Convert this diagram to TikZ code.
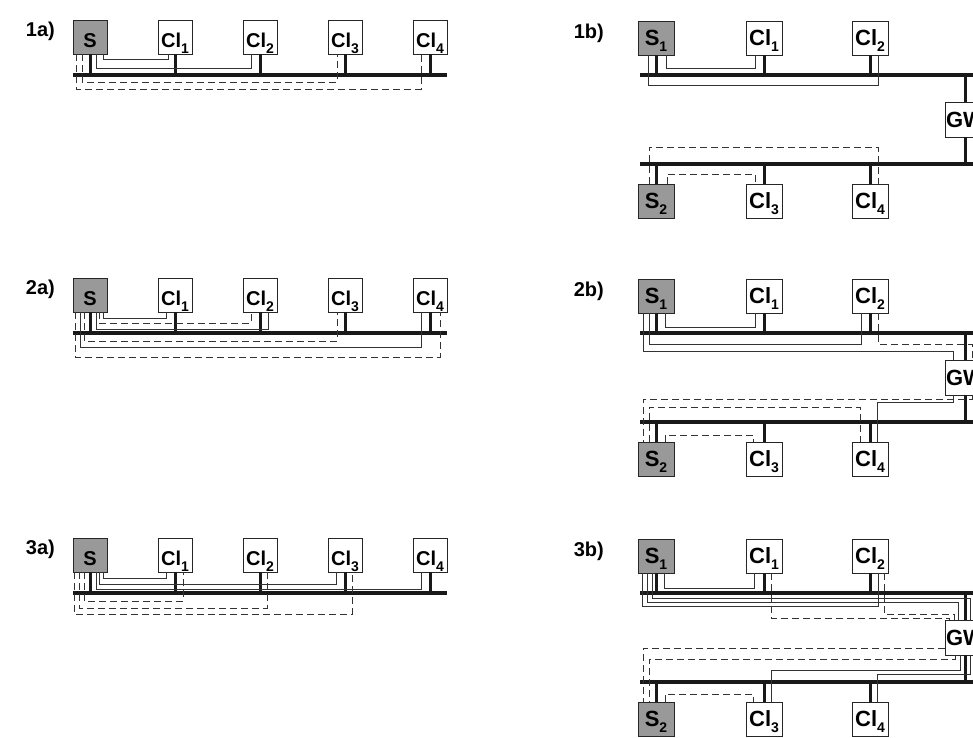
\documentclass[tikz,border=0pt]{standalone}
\usepackage{fontspec}
\setmainfont{Liberation Sans}
\newcommand\sbs[1]{\raisebox{-6pt}{\fontsize{14}{14}\selectfont #1}}
\newcommand\ltx[1]{\raisebox{-10pt}[0pt][0pt]{#1}}
\newcommand\rtx[1]{\raisebox{-7pt}[0pt][0pt]{#1}}
\newcommand\lnk[6]{\draw[#1] ([xshift=#3pt]#2) -- ++(0,#4) -| ([xshift=#6pt]#5);}
\newcommand\leftnodes[1]{%
  \coordinate (#1L) at (73,75); \coordinate (#1R) at (447,75);
  \draw[bus] (#1L) -- (#1R);
  \node[srv,lbox] (#1S) at (90,37) {\ltx{S}};
  \node[box,lbox] (#1C1) at (175,37) {\ltx{Cl\sbs{1}}};
  \node[box,lbox] (#1C2) at (260,37) {\ltx{Cl\sbs{2}}};
  \node[box,lbox] (#1C3) at (345,37) {\ltx{Cl\sbs{3}}};
  \node[box,lbox] (#1C4) at (430,37) {\ltx{Cl\sbs{4}}};
  \foreach \n in {S,C1,C2,C3,C4} \draw[stub] (#1\n.south) -- (#1\n.south |- #1L);
}
\newcommand\rightnodes[1]{%
  \coordinate (#1TL) at (640,75); \coordinate (#1TR) at (990,75);
  \coordinate (#1BL) at (640,164); \coordinate (#1BR) at (990,164);
  \draw[bus] (#1TL) -- (#1TR);
  \draw[bus] (#1BL) -- (#1BR);
  \node[srv,rbox] (#1S1) at (656,38) {\rtx{S\sbs{1}}};
  \node[box,rbox] (#1C1) at (764,38) {\rtx{Cl\sbs{1}}};
  \node[box,rbox] (#1C2) at (870,38) {\rtx{Cl\sbs{2}}};
  \node[box,gwbox] (#1GW) at (965,119.5) {\raisebox{-8pt}[0pt][0pt]{GW}};
  \node[srv,rbox] (#1S2) at (656,201) {\rtx{S\sbs{2}}};
  \node[box,rbox] (#1C3) at (764,201) {\rtx{Cl\sbs{3}}};
  \node[box,rbox] (#1C4) at (870,201) {\rtx{Cl\sbs{4}}};
  \foreach \n in {S1,C1,C2} \draw[stub] (#1\n.south) -- (#1\n.south |- #1TL);
  \foreach \n in {S2,C3,C4} \draw[stub] (#1\n.north) -- (#1\n.north |- #1BL);
  \draw[stub] (#1GW.north) -- (#1GW.north |- #1TL);
  \draw[stub] (#1GW.south) -- (#1GW.south |- #1BL);
}
\begin{document}
\begin{tikzpicture}[x=1pt,y=-1pt,
  box/.style={draw=black!85, line width=0.9pt, fill=white, inner sep=0pt, outer sep=0pt},
  srv/.style={box, fill=black!40},
  lbox/.style={minimum width=34pt, minimum height=34pt, font=\fontsize{20}{20}\selectfont\bfseries},
  rbox/.style={minimum width=36pt, minimum height=34pt, font=\fontsize{22}{22}\selectfont\bfseries},
  gwbox/.style={minimum width=40pt, minimum height=35pt, font=\fontsize{22}{22}\selectfont\bfseries},
  bus/.style={line width=3.2pt, black!90},
  stub/.style={line width=3pt, black!90},
  sol/.style={line width=0.8pt, black!80},
  das/.style={line width=0.8pt, black!80, dash pattern=on 7pt off 4pt},
  lab/.style={font=\fontsize{20}{20}\selectfont\bfseries, anchor=east, inner sep=0pt}]
\useasboundingbox (0,0) rectangle (973,737);
\clip (0,0) rectangle (973,737);
\fill[white] (0,0) rectangle (973,737);

% ---------- 1a ----------
\node[lab] (l1a) at (55,31) {1a)};
\leftnodes{a1}
\lnk{sol}{a1S.south}{13}{5}{a1C1.south}{-7}
\lnk{sol}{a1S.south}{6}{14}{a1C2.south}{-9}
\lnk{das}{a1S.south}{-8}{28}{a1C3.south}{-8}
\lnk{das}{a1S.south}{-14}{35}{a1C4.south}{-9}

% ---------- 2a ----------
\begin{scope}[yshift=-258pt]
\node[lab] (l2a) at (55,31) {2a)};
\leftnodes{a2}
\lnk{sol}{a2S.south}{13}{6}{a2C1.south}{-9}
\lnk{das}{a2S.south}{9}{11}{a2C2.south}{-9}
\lnk{sol}{a2S.south}{6}{17}{a2C2.south}{8}
\lnk{das}{a2S.south}{-6}{29}{a2C3.south}{-8}
\lnk{sol}{a2S.south}{-10}{35}{a2C4.south}{-9}
\lnk{das}{a2S.south}{-15}{45}{a2C4.south}{10}
\end{scope}

% ---------- 3a ----------
\begin{scope}[yshift=-518pt]
\node[lab] (l3a) at (55,31) {3a)};
\leftnodes{a3}
\lnk{sol}{a3S.south}{13}{6}{a3C1.south}{-9}
\lnk{sol}{a3S.south}{9}{12}{a3C3.south}{-9}
\lnk{sol}{a3S.south}{6}{17}{a3C4.south}{-9}
\lnk{das}{a3S.south}{-6}{29}{a3C1.south}{8}
\lnk{das}{a3S.south}{-11}{36}{a3C2.south}{7}
\lnk{das}{a3S.south}{-16}{42}{a3C3.south}{7}
\end{scope}

% ---------- 1b ----------
\node[lab] (l1b) at (604,33) {1b)};
\rightnodes{b1}
\lnk{sol}{b1S1.south}{10}{13}{b1C1.south}{-9}
\lnk{sol}{b1S1.south}{-8}{30}{b1C2.south}{8}
\lnk{das}{b1S2.north}{-7}{-37}{b1C4.north}{8}
\lnk{das}{b1S2.north}{11}{-10}{b1C3.north}{-9}

% ---------- 2b ----------
\begin{scope}[yshift=-258pt]
\node[lab] (l2b) at (604,33) {2b)};
\rightnodes{b2}
\lnk{sol}{b2S1.south}{9}{14}{b2C1.south}{-9}
\lnk{sol}{b2S1.south}{-7}{31}{b2C2.south}{-9}
\lnk{sol}{b2S1.south}{-13}{38}{b2GW.north}{-12}
\lnk{das}{b2C2.south}{8}{31}{b2GW.north}{7}
\lnk{sol}{b2GW.south}{-12}{7}{b2C4.north}{7}
\lnk{das}{b2GW.south}{7}{4}{b2S2.north}{-13}
\lnk{das}{b2S2.north}{-7}{-35}{b2C4.north}{-10}
\lnk{das}{b2S2.north}{9}{-7}{b2C3.north}{-11}
\end{scope}

% ---------- 3b ----------
\begin{scope}[yshift=-518pt]
\node[lab] (l3b) at (604,33) {3b)};
\rightnodes{b3}
\lnk{sol}{b3S1.south}{8}{15}{b3C1.south}{-10}
\lnk{sol}{b3S1.south}{-4}{25}{b3GW.north}{5}
\lnk{sol}{b3S1.south}{-9}{29}{b3GW.north}{-7}
\lnk{sol}{b3S1.south}{-14}{33}{b3C2.south}{8}
\lnk{das}{b3C2.south}{14}{41}{b3GW.north}{-11}
\lnk{das}{b3C1.south}{7}{45}{b3GW.north}{-16}
\draw[das] ([yshift=-10.5pt]b3GW.west) -| ([xshift=-13pt]b3S2.north);
\lnk{das}{b3GW.south}{-10}{4}{b3S2.north}{-7}
\lnk{sol}{b3GW.south}{-5}{15}{b3C3.north}{7}
\lnk{sol}{b3GW.south}{5}{19}{b3C4.north}{7}
\lnk{das}{b3S2.north}{9}{-8}{b3C3.north}{-11}
\end{scope}
\end{tikzpicture}
\end{document}
